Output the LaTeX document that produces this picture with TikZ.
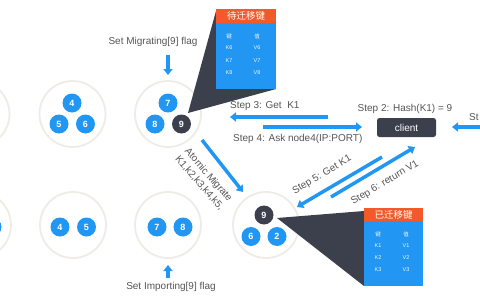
\documentclass[tikz,border=0pt]{standalone}
\usepackage{fontspec}
\setmainfont{Liberation Sans}
\newfontfamily\cjk{Noto Sans CJK SC}
\usetikzlibrary{arrows.meta}
\definecolor{cblue}{HTML}{2196F3}
\definecolor{cdark}{HTML}{3B404C}
\definecolor{corange}{HTML}{F25A29}
\definecolor{cring}{HTML}{EFEBE6}
\definecolor{ctext}{HTML}{555555}
\begin{document}
\begin{tikzpicture}[x=1pt,y=-1pt,
  ring/.style={circle,draw=cring,line width=1.8pt,minimum size=66pt,inner sep=0pt},
  slot/.style={circle,fill=cblue,minimum size=19pt,inner sep=0pt,text=white,font=\bfseries\fontsize{9}{9}\selectfont},
  slotdark/.style={slot,fill=cdark},
  lbl/.style={text=ctext,font=\fontsize{10}{12}\selectfont,inner sep=0pt},
  arr/.style={draw=cblue,line width=3.5pt,-{Triangle[length=6pt,width=9pt]}},
  cell/.style={text=white!92!cblue,font=\fontsize{5.5}{6}\selectfont,inner sep=0pt},
  cellcjk/.style={cell,font=\cjk\fontsize{5.5}{6}\selectfont},
  table/.style={rectangle,fill=cblue,inner sep=0pt,anchor=north west,minimum width=60pt,minimum height=80pt},
  head/.style={rectangle,fill=corange,inner sep=0pt,anchor=north west,minimum width=60pt,minimum height=14pt,text=white,font=\cjk\fontsize{9.5}{10}\selectfont},
  clientbox/.style={rectangle,rounded corners=2.5pt,fill=cdark,minimum width=59pt,minimum height=19pt,inner sep=0pt,text=white,font=\fontsize{10}{12}\selectfont}
]
\useasboundingbox (0,0) rectangle (480,300);
\clip (0,0) rectangle (480,300);

% rings top row
\node[ring] (rA) at (-23.5,114) {};
\node[ring] (rB) at (72.5,114) {};
\node[ring] (rC) at (168,114) {};
% rings bottom row
\node[ring] (rD) at (-22,225) {};
\node[ring] (rE) at (73,225) {};
\node[ring] (rF) at (168,225) {};
\node[ring] (rG) at (266,225) {};

% slots
\node[slot] (s4) at (72,103) {4};
\node[slot] (s5) at (59,124) {5};
\node[slot] (s6) at (85.5,124) {6};
\node[slot] (s7) at (168,103) {7};
\node[slot] (s8) at (155,124) {8};
\node[slotdark] (s9) at (181.5,124) {9};

\node[slot] (sx) at (-8,227) {};
\node[slot] (b4) at (60,227) {4};
\node[slot] (b5) at (86.5,227) {5};
\node[slot] (b7) at (157,227) {7};
\node[slot] (b8) at (183,227) {8};

% top callout
\coordinate (tapex) at (188,113);
\coordinate (ttl) at (216,11);
\coordinate (tbr) at (276,89);
\fill[cdark] (tapex) -- (ttl) -- (tbr) -- cycle;
\node[table] (tbox) at (216,9) {};
\node[head] (thead) at (216,9) {待迁移键};
\node[cellcjk] (tk0) at (229,36) {键};
\node[cellcjk] (tv0) at (257,36) {值};
\node[cell] (tk1) at (229,48) {K6};
\node[cell] (tv1) at (257,48) {V6};
\node[cell] (tk2) at (229,60.5) {K7};
\node[cell] (tv2) at (257,60.5) {V7};
\node[cell] (tk3) at (229,73) {K8};
\node[cell] (tv3) at (257,73) {V8};

% bottom-right ring slots and callout
\coordinate (bapex) at (277,218);
\coordinate (btl) at (364,211);
\coordinate (bbl) at (364,286);
\fill[cdark] (bapex) -- (btl) -- (bbl) -- cycle;
\node[slotdark] (g9) at (264,215) {9};
\node[slot] (g6) at (251,236.5) {6};
\node[slot] (g2) at (277,236.5) {2};
\node[table,minimum width=59pt,minimum height=78pt] (bbox) at (364,208) {};
\node[head,minimum width=59pt,minimum height=13pt] (bhead) at (364,208) {已迁移键};
\node[cellcjk] (bk0) at (378,234) {键};
\node[cellcjk] (bv0) at (406,234) {值};
\node[cell] (bk1) at (378,246) {K1};
\node[cell] (bv1) at (406,246) {V1};
\node[cell] (bk2) at (378,258) {K2};
\node[cell] (bv2) at (406,258) {V2};
\node[cell] (bk3) at (378,270) {K3};
\node[cell] (bv3) at (406,270) {V3};

% client
\node[clientbox] (client) at (406.5,127.5) {client};

% labels
\node[lbl] (lmig) at (153,42) {Set Migrating[9] flag};
\node[lbl] (limp) at (171,287) {Set Importing[9] flag};
\node[lbl,anchor=west] (l3) at (230,106) {Step 3: Get\ \ K1};
\node[lbl,anchor=west] (l4) at (233,139) {Step 4: Ask node4(IP:PORT)};
\node[lbl] (l2) at (405,109) {Step 2: Hash(K1) = 9};
\node[lbl,anchor=west] (l1) at (469,117) {St};
\node[lbl,align=center,rotate=-49] (latom) at (204,179) {Atomic Migrate\\K1,k2,k3,k4,k5,};
\node[lbl,rotate=31] (l5) at (322,175) {Step 5: Get K1};
\node[lbl,rotate=31] (l6) at (385,183) {Step 6: return V1};

% arrows
\coordinate (am1) at (168,55);  \coordinate (am2) at (168,75);
\coordinate (ai1) at (168,278); \coordinate (ai2) at (168,265);
\coordinate (a31) at (328,117); \coordinate (a32) at (230,117);
\coordinate (a41) at (263,127); \coordinate (a42) at (362,127);
\coordinate (a11) at (486,127); \coordinate (a12) at (452,127);
\coordinate (aa1) at (202,140); \coordinate (aa2) at (243,192);
\coordinate (a51) at (382,157); \coordinate (a52) at (297,207);
\coordinate (a61) at (331,197); \coordinate (a62) at (415,147);
\draw[arr] (am1) -- (am2);
\draw[arr] (ai1) -- (ai2);
\draw[arr] (a31) -- (a32);
\draw[arr] (a41) -- (a42);
\draw[arr] (a11) -- (a12);
\draw[arr] (aa1) -- (aa2);
\draw[arr] (a51) -- (a52);
\draw[arr] (a61) -- (a62);
\end{tikzpicture}
\end{document}
